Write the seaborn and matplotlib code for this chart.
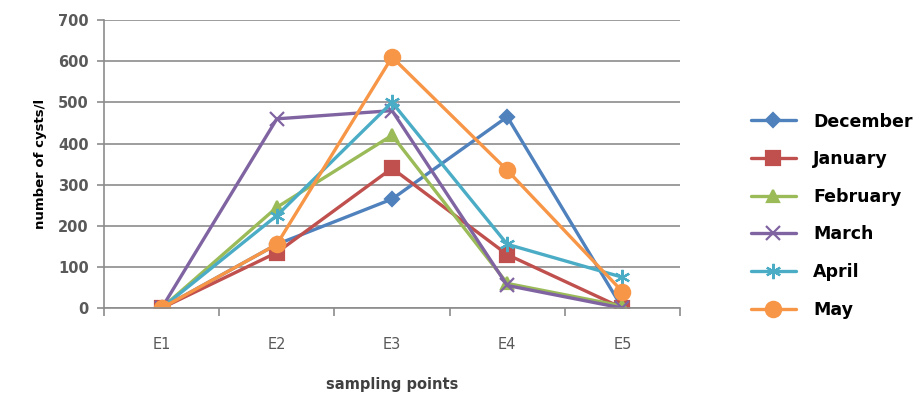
import numpy as np
import pandas as pd
import matplotlib
matplotlib.use("Agg")
import matplotlib.pyplot as plt
import seaborn as sns

points = ["E1", "E2", "E3", "E4", "E5"]
december = [0, 155, 265, 465, 0]
january = [0, 135, 340, 130, 0]
february = [0, 245, 420, 60, 5]
march = [0, 460, 480, 55, 0]
april = [0, 225, 500, 155, 75]
may = [0, 155, 610, 335, 40]

months = ["December", "January", "February", "March", "April", "May"]
series = [december, january, february, march, april, may]
colors = ["#4F81BD", "#C0504D", "#9BBB59", "#8064A2", "#4BACC6", "#F79646"]
markers = ["D", "s", "^", "x", (6, 2, 0), "o"]
msizes = [7, 10, 9, 10, 11, 11]

rows = []
for m, vals in zip(months, series):
    for i, v in enumerate(vals):
        rows.append({"month": m, "pos": i, "value": v})
df = pd.DataFrame(rows)

sns.set_theme(style="white")
plt.rcParams['font.family'] = ['DejaVu Sans']

fig = plt.figure(figsize=(9.24, 3.94), dpi=100)
ax = fig.add_axes([0.1126, 0.218, 0.6234, 0.731])

for m, c, mk, ms in zip(months, colors, markers, msizes):
    sub = df[df["month"] == m]
    sns.lineplot(data=sub, x="pos", y="value", ax=ax, color=c, linewidth=2.4,
                 marker=mk, markersize=ms, markeredgecolor=c, markeredgewidth=1.6,
                 label=m, legend=False)

ax.set_xlim(-0.5, 4.5)
ax.set_ylim(0, 700)
ax.set_yticks(np.arange(0, 701, 100))
ax.yaxis.grid(True, color="#8C8C8C", linewidth=1.2)
ax.set_axisbelow(True)
ax.set_xticks(np.arange(-0.5, 4.6, 1.0))
ax.set_xticklabels([])
ax.set_xticks(np.arange(0, 5), minor=True)
ax.set_xticklabels(points, minor=True)
ax.tick_params(axis="x", which="major", length=6, width=1.2, color="#8C8C8C", direction="out", bottom=True)
ax.tick_params(axis="x", which="minor", length=0, pad=21, labelsize=10.5, labelcolor="#595959")
ax.tick_params(axis="y", length=5, width=1.2, color="#8C8C8C", direction="out", left=True,
               labelsize=10.5, labelcolor="#595959", pad=6)
for lbl in ax.get_yticklabels():
    lbl.set_fontweight("bold")
for s in ["top", "right"]:
    ax.spines[s].set_visible(False)
for s in ["left", "bottom"]:
    ax.spines[s].set_color("#8C8C8C")
    ax.spines[s].set_linewidth(1.2)

ax.set_xlabel("sampling points", fontsize=10.5, fontweight="bold", color="#404040", labelpad=18)
ax.set_ylabel("number of cysts/l", fontsize=9.5, fontweight="bold", color="black", labelpad=8)

h, l = ax.get_legend_handles_labels()
leg = fig.legend(h, l, loc="upper left", bbox_to_anchor=(0.805, 0.732), frameon=False,
                 prop={"weight": "bold", "size": 12.5}, labelspacing=1.13, handlelength=2.6,
                 handletextpad=1.0, borderaxespad=0)
for t in leg.get_texts():
    t.set_color("black")

fig.savefig("out.png", dpi=100)
